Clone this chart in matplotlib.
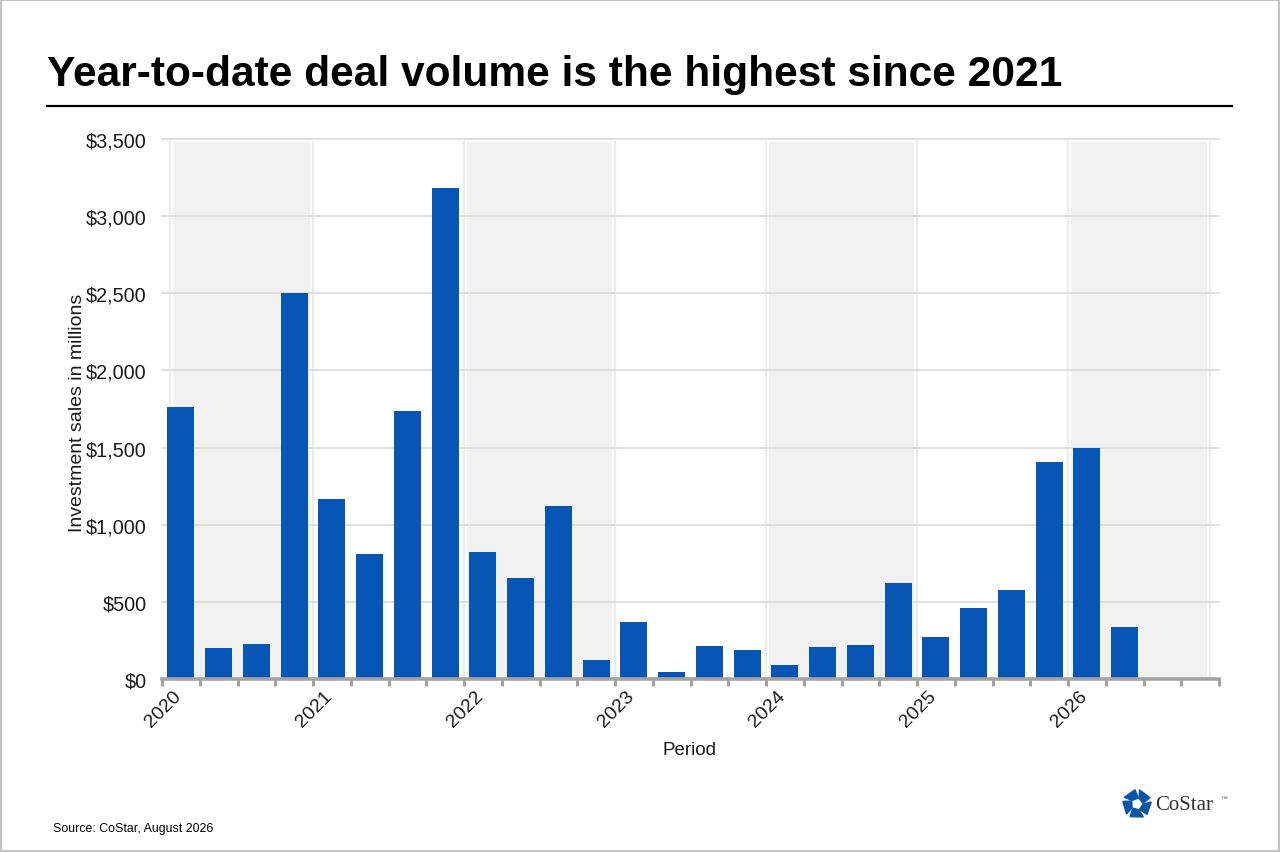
import matplotlib
matplotlib.use("Agg")
import matplotlib.pyplot as plt
from matplotlib.patches import Polygon, Rectangle
import numpy as np

plt.rcParams['font.family'] = ['Liberation Sans', 'DejaVu Sans']

# ---------------- data ----------------
years = [2020, 2021, 2022, 2023, 2024, 2025, 2026]
quarters = ["Q1", "Q2", "Q3", "Q4"]
periods = [f"{y} {q}" for y in years for q in quarters]          # 28 slots on the axis
sales = [1760, 200, 225, 2500,
         1165, 810, 1740, 3185,
         825, 655, 1120, 120,
         370, 45, 215, 185,
         90, 210, 220, 625,
         270, 460, 575, 1405,
         1500, 340]                                             # through 2026 Q2
y_ticks = [0, 500, 1000, 1500, 2000, 2500, 3000, 3500]
y_tick_labels = ["$0", "$500", "$1,000", "$1,500", "$2,000", "$2,500", "$3,000", "$3,500"]
year_labels = [str(y) for y in years]

title = "Year-to-date deal volume is the highest since 2021"
y_label = "Investment sales in millions"
x_label = "Period"
source = "Source: CoStar, August 2026"

BAR = "#0755B4"
BAND = "#f1f1f1"
AXIS = "#a3a3a3"
TXT = "#1a1a1a"

W, H = 1280, 853
fig = plt.figure(figsize=(W / 100, H / 100), dpi=100)
fig.patch.set_facecolor("white")

# outer frame
fig.add_artist(Rectangle((0.0008, 0.001), 0.9984, 0.998, transform=fig.transFigure,
                         fill=False, edgecolor="#c4c4c4", linewidth=1.5))

# title + rule
fig.text(47 / W, 1 - 75 / H, title, fontsize=30.6, fontweight="bold", ha="left", va="center",
         color="#000000")
fig.add_artist(plt.Line2D([47 / W, 1232 / W], [1 - 107 / H, 1 - 107 / H],
                          transform=fig.transFigure, color="#000000", linewidth=1.6))

ax = fig.add_axes([162 / W, 1 - 680 / H, (1219 - 162) / W, (680 - 140) / H])
n_slots = len(periods)
x = np.arange(len(sales)) + 0.5

ax.set_xlim(0, n_slots)
ax.set_ylim(0, 3500)

# year bands (alternating)
bounds = [0.2] + [4 * i for i in range(1, len(years))] + [n_slots - 0.25]
for i in range(len(years)):
    if i % 2 == 0:
        ax.axvspan(bounds[i] + 0.08, bounds[i + 1] - 0.08, ymax=0.995, color=BAND, zorder=0, lw=0)
for b in bounds:
    ax.axvline(b, ymax=0.995, color="#ececec", linewidth=1.6, zorder=0.5)

# horizontal gridlines
for t in y_ticks[1:]:
    ax.axhline(t, color="#dcdcdc", linewidth=1.3, zorder=1, clip_on=False)

ax.bar(x, sales, width=0.72, color=BAR, zorder=3)

for s in ["top", "right", "left"]:
    ax.spines[s].set_visible(False)
ax.spines["bottom"].set_color(AXIS)
ax.spines["bottom"].set_linewidth(2.6)
ax.spines["bottom"].set_zorder(4)

ax.set_yticks(y_ticks)
ax.set_yticklabels(y_tick_labels)
ax.tick_params(axis="y", length=0, pad=11, labelsize=14.3, labelcolor=TXT)

ax.set_xticks(np.arange(0, n_slots + 1))
ax.set_xticklabels([])
ax.tick_params(axis="x", which="major", length=5, width=2.2, color=AXIS, direction="out")
ax.set_xticks(np.arange(0, n_slots, 4) + 0.6, minor=True)
ax.set_xticklabels(year_labels, minor=True, rotation=45, ha="right", va="top",
                   fontsize=14, color=TXT)
ax.tick_params(axis="x", which="minor", length=0, pad=6)

ax.set_ylabel(y_label, fontsize=14, color=TXT)
ax.yaxis.set_label_coords((86 - 162) / (1219 - 162), 0.5 - 3 / 540)
ax.set_xlabel(x_label, fontsize=13.5, color=TXT)
ax.xaxis.set_label_coords((690 - 162) / (1219 - 162), -(742 - 680) / (680 - 140))

fig.text(53 / W, 1 - 829 / H, source, fontsize=8.9, ha="left", va="center", color="#000000")

# CoStar logo (decoration)
lax = fig.add_axes([1119 / W, 1 - 823 / H, 36 / W, 36 / H])
lax.set_xlim(-1.25, 1.25)
lax.set_ylim(-1.25, 1.25)
lax.axis("off")
for k in range(5):
    a0 = np.deg2rad(90 + k * 72 + 8)
    a1 = np.deg2rad(90 + k * 72 + 62)
    r1, r2 = 0.42, 1.0
    pts = [(r1 * np.cos(a0 - 0.35), r1 * np.sin(a0 - 0.35)),
           (r2 * np.cos(a0), r2 * np.sin(a0)),
           (r2 * np.cos(a1), r2 * np.sin(a1)),
           (r1 * np.cos(a1 - 0.15), r1 * np.sin(a1 - 0.15))]
    lax.add_patch(Polygon(pts, closed=True, color="#0B55A8"))
fig.text(1155 / W, 1 - 806 / H, "CoStar", fontsize=15, family=["Liberation Serif", "DejaVu Serif"],
         ha="left", va="center", color="#333333")
fig.text(1220 / W, 1 - 800 / H, "\u2122", fontsize=5, ha="left", va="center", color="#555555")

fig.savefig("out.png", dpi=100)
